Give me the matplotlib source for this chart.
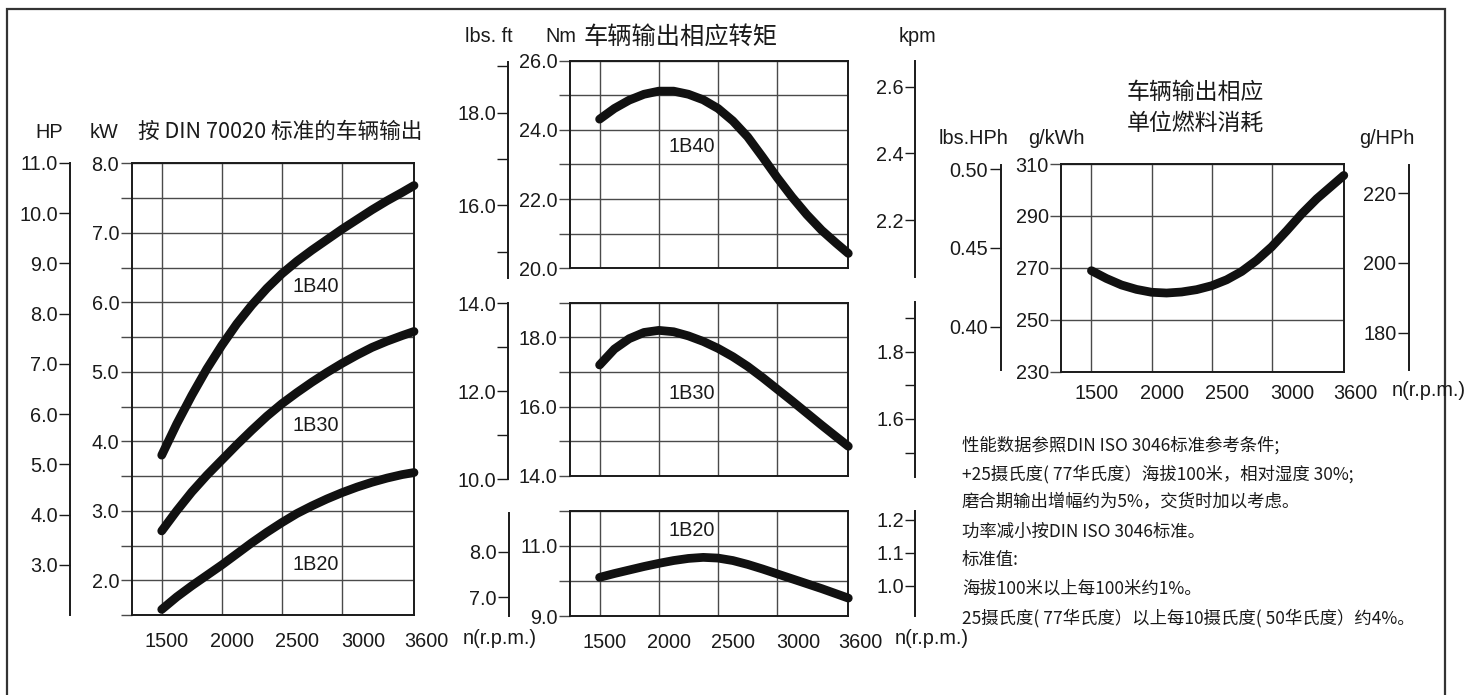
import matplotlib
matplotlib.use("Agg")
import matplotlib.pyplot as plt
from matplotlib.patches import Rectangle
from matplotlib.transforms import ScaledTranslation

plt.rcParams['font.family'] = ['Liberation Sans', 'Noto Sans CJK SC', 'DejaVu Sans']

#
# values
#
rpm = [1500, 1625, 1750, 1875, 2000, 2125, 2250, 2375, 2500,
       2625, 2750, 2875, 3000, 3125, 3250, 3375, 3500, 3600]

power_1b40 = [3.80, 4.25, 4.66, 5.04, 5.38, 5.69, 5.96, 6.20, 6.41,
              6.59, 6.75, 6.90, 7.05, 7.19, 7.33, 7.46, 7.58, 7.68]
power_1b30 = [2.71, 3.00, 3.27, 3.51, 3.73, 3.95, 4.16, 4.36, 4.54,
              4.70, 4.85, 4.99, 5.12, 5.24, 5.35, 5.44, 5.52, 5.58]
power_1b20 = [1.58, 1.76, 1.92, 2.07, 2.22, 2.38, 2.54, 2.69, 2.83,
              2.96, 3.07, 3.17, 3.26, 3.34, 3.41, 3.47, 3.52, 3.55]

torque_1b40 = [24.31, 24.62, 24.86, 25.03, 25.12, 25.12, 25.03, 24.87, 24.62,
               24.26, 23.80, 23.22, 22.62, 22.06, 21.55, 21.10, 20.72, 20.43]
torque_1b30 = [17.20, 17.66, 17.96, 18.14, 18.20, 18.16, 18.04, 17.88, 17.68,
               17.44, 17.16, 16.84, 16.50, 16.16, 15.81, 15.46, 15.12, 14.85]
torque_1b20 = [10.10, 10.21, 10.31, 10.41, 10.50, 10.58, 10.64, 10.67, 10.65,
               10.58, 10.47, 10.34, 10.20, 10.06, 9.92, 9.78, 9.63, 9.51]

fuel = [268.9, 265.9, 263.4, 261.7, 260.6, 260.3, 260.7, 261.6, 263.1,
        265.4, 268.6, 272.9, 278.1, 284.3, 290.8, 296.6, 301.6, 305.6]

rpm_ticks = [1500, 2000, 2500, 3000, 3600]
rpm_labels = ['1500', '2000', '2500', '3000', '3600']

notes = [
    "性能数据参照DIN ISO 3046标准参考条件;",
    "+25摄氏度( 77华氏度）海拔100米，相对湿度 30%;",
    "磨合期输出增幅约为5%，交货时加以考虑。",
    "功率减小按DIN ISO 3046标准。",
    "标准值:",
    "海拔100米以上每100米约1%。",
    "25摄氏度( 77华氏度）以上每10摄氏度( 50华氏度）约4%。",
]

W, H = 1484, 695
fig = plt.figure(figsize=(W / 100, H / 100), dpi=100)

NUM = 14.3
INK = '#1a1a1a'
GRID = '#4a4a4a'
label_shift = [5, 10, 15, 21, 12]  # px, the rpm labels drift right of the grid


def rect(x0, y0, x1, y1):
    return [x0 / W, 1 - y1 / H, (x1 - x0) / W, (y1 - y0) / H]


def ftext(x, y, s, **kw):
    kw.setdefault('fontsize', NUM)
    kw.setdefault('ha', 'center')
    kw.setdefault('va', 'center')
    fig.text(x / W, 1 - y / H, s, color=INK, **kw)


def panel(box, ylim, yticks, ylabels, xlabels=True, xpad=12):
    ax = fig.add_axes(rect(*box))
    ax.set_xlim(1250, 3600)
    ax.set_ylim(*ylim)
    ax.set_xticks(rpm_ticks)
    ax.set_yticks(yticks, ylabels)
    ax.grid(True, color=GRID, lw=1.0)
    ax.set_axisbelow(True)
    for s in ax.spines.values():
        s.set_color(INK)
        s.set_linewidth(1.4)
    ax.tick_params(axis='y', length=8, width=1.0, color=GRID, pad=1, labelsize=NUM, labelcolor=INK)
    ax.tick_params(axis='x', length=0, pad=xpad, labelsize=NUM, labelcolor=INK)
    if xlabels:
        ax.set_xticklabels(rpm_labels)
        for lab, dx in zip(ax.get_xticklabels(), label_shift):
            lab.set_transform(lab.get_transform() + ScaledTranslation(dx / 100, 0, fig.dpi_scale_trans))
    else:
        ax.set_xticklabels([])
    return ax


def scale(x, y0, y1, ylim, yticks, ylabels, length=8):
    ax = fig.add_axes([x / W, 1 - y1 / H, 0.0005, (y1 - y0) / H])
    ax.patch.set_visible(False)
    for k in ['top', 'right', 'bottom']:
        ax.spines[k].set_visible(False)
    ax.spines['left'].set_color(INK)
    ax.spines['left'].set_linewidth(1.4)
    ax.set_ylim(*ylim)
    ax.set_xticks([])
    ax.set_yticks(yticks, ylabels)
    ax.tick_params(axis='y', length=length, width=1.0, color=INK, pad=1, labelsize=NUM, labelcolor=INK)
    return ax


def curve(ax, y):
    ax.plot(rpm, y, color='#111111', lw=6.3, solid_capstyle='round', solid_joinstyle='round', clip_on=False, zorder=3)


# ---- power ----
kw_ticks = [1.5 + 0.5 * i for i in range(14)]
kw_labels = ['%.1f' % v if v == int(v) and v >= 2 else '' for v in kw_ticks]
ax1 = panel((131.7, 163.3, 414, 615), (1.5, 8.0), kw_ticks, kw_labels)
curve(ax1, power_1b40)
curve(ax1, power_1b30)
curve(ax1, power_1b20)
ax1.text(2783, 6.22, '1B40', fontsize=NUM, ha='center', va='center', color=INK)
ax1.text(2783, 4.23, '1B30', fontsize=NUM, ha='center', va='center', color=INK)
ax1.text(2783, 2.22, '1B20', fontsize=NUM, ha='center', va='center', color=INK)
scale(70.3, 163, 615, (2.0, 11.0), [3, 4, 5, 6, 7, 8, 9, 10, 11],
      ['3.0', '4.0', '5.0', '6.0', '7.0', '8.0', '9.0', '10.0', '11.0'])
ftext(49, 133, 'HP')
ftext(104, 133, 'kW')
ftext(138, 132, '按 DIN 70020 标准的车辆输出', fontsize=15.6, ha='left',
      family=['Noto Sans CJK SC', 'DejaVu Sans'])
ftext(463, 639, 'n(r.p.m.)', ha='left')

# ---- torque ----
ax2 = panel((570, 60.7, 848.3, 268.3), (20, 26), [20, 21, 22, 23, 24, 25, 26],
            ['20.0', '', '22.0', '', '24.0', '', '26.0'], xlabels=False)
curve(ax2, torque_1b40)
ax2.text(2278, 23.51, '1B40', fontsize=NUM, ha='center', va='center', color=INK)
scale(508.3, 61.7, 278, (14.43, 19.10), [15, 16, 17, 18, 19], ['', '16.0', '', '18.0', ''])
scale(915, 60.7, 276.7, (2.03, 2.678), [2.2, 2.4, 2.6], ['2.2', '2.4', '2.6'], length=7)

ax3 = panel((570, 302.7, 848.3, 475.7), (14, 19), [14, 15, 16, 17, 18, 19],
            ['14.0', '', '16.0', '', '18.0', ''], xlabels=False)
curve(ax3, torque_1b30)
ax3.text(2278, 16.38, '1B30', fontsize=NUM, ha='center', va='center', color=INK)
scale(508.3, 303.3, 479.3, (10, 14), [10, 11, 12, 13, 14], ['10.0', '', '12.0', '', '14.0'])
scale(915, 301.7, 476.7, (1.428, 1.949), [1.5, 1.6, 1.7, 1.8, 1.9], ['', '1.6', '', '1.8', ''], length=7)

ax4 = panel((570, 510.7, 848.3, 616), (9, 12), [9, 10, 11, 12], ['9.0', '', '11.0', ''])
curve(ax4, torque_1b20)
ax4.text(2278, 11.45, '1B20', fontsize=NUM, ha='center', va='center', color=INK)
scale(509, 512.7, 616, (6.59, 8.86), [7, 8], ['7.0', '8.0'])
scale(915, 510.7, 616, (0.908, 1.228), [1.0, 1.1, 1.2], ['1.0', '1.1', '1.2'], length=7)

ftext(489, 36, 'lbs. ft')
ftext(561, 36, 'Nm')
ftext(917, 36, 'kpm')
ftext(584, 37, '车辆输出相应转矩', fontsize=17.5, ha='left', family=['Noto Sans CJK SC'])
ftext(895, 639, 'n(r.p.m.)', ha='left')

# ---- fuel ----
ax5 = panel((1061.4, 164, 1343.8, 371.7), (230, 310), [230, 250, 270, 290, 310],
            ['230', '250', '270', '290', '310'], xpad=9)
curve(ax5, fuel)
scale(1000.6, 165, 370, (0.3725, 0.5027), [0.40, 0.45, 0.50], ['0.40', '0.45', '0.50'])
scale(1409, 165, 370, (169.3, 228.1), [180, 200, 220], ['180', '200', '220'])
ftext(974, 138, 'lbs.HPh')
ftext(1056, 138, 'g/kWh')
ftext(1387, 138, 'g/HPh')
ftext(1195, 92, '车辆输出相应', fontsize=16.5, family=['Noto Sans CJK SC'])
ftext(1195, 123, '单位燃料消耗', fontsize=16.5, family=['Noto Sans CJK SC'])
ftext(1392, 391, 'n(r.p.m.)', ha='left')

for i, line in enumerate(notes):
    ftext(962, 445 + 28.8 * i, line, fontsize=12.5, ha='left',
          family=['Noto Sans CJK SC', 'DejaVu Sans'])

# sheet frame, open at the bottom
fig.add_artist(Rectangle((7 / W, -0.05), (1444.5 - 7) / W, 1 - 9 / H + 0.05,
                         transform=fig.transFigure, fill=False, lw=1.6, ec='#333333'))

fig.savefig('out.png', dpi=100)
